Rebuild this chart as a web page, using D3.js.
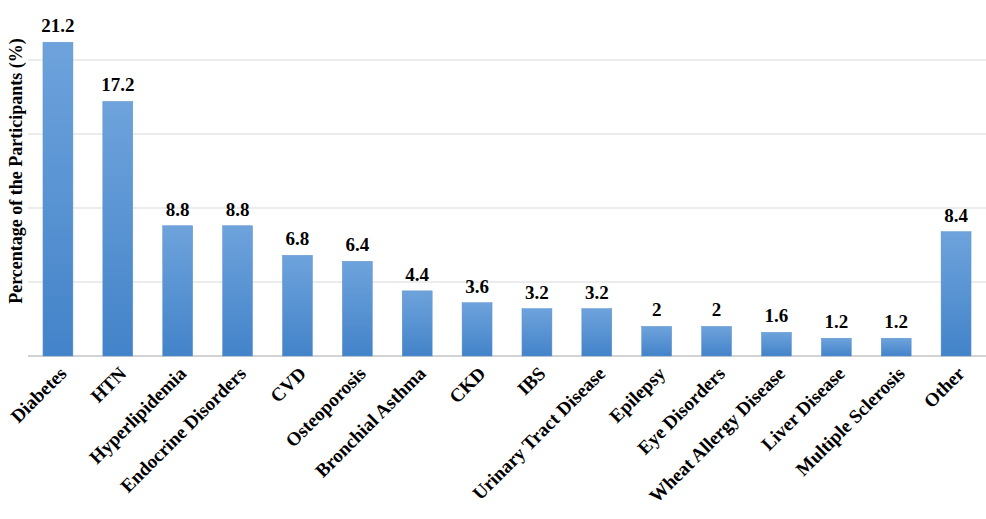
<!DOCTYPE html>
<html>
<head>
<meta charset="utf-8">
<script src="https://cdn.jsdelivr.net/npm/d3@7"></script>
<style>
  body { margin: 0; background: #fff; }
  text { font-family: "Liberation Serif", "Times New Roman", serif; font-weight: bold; fill: #000; }
</style>
</head>
<body>
<div id="chart"></div>
<script>
// data
var categories = ["Diabetes", "HTN", "Hyperlipidemia", "Endocrine Disorders", "CVD",
  "Osteoporosis", "Bronchial Asthma", "CKD", "IBS", "Urinary Tract Disease",
  "Epilepsy", "Eye Disorders", "Wheat Allergy Disease", "Liver Disease",
  "Multiple Sclerosis", "Other"];
var percents = [21.2, 17.2, 8.8, 8.8, 6.8, 6.4, 4.4, 3.6, 3.2, 3.2, 2, 2, 1.6, 1.2, 1.2, 8.4];
var gridTicks = [0, 5, 10, 15, 20];

var svgWidth = 986;
var svgHeight = 519;

var margin = { top: 60, right: 0, bottom: 163, left: 28 };
var chartWidth = svgWidth - margin.left - margin.right;
var chartHeight = svgHeight - margin.top - margin.bottom;

var svg = d3.select("#chart")
  .append("svg")
  .attr("width", svgWidth)
  .attr("height", svgHeight);

// bar gradient, lighter on top
var defs = svg.append("defs");
var grad = defs.append("linearGradient")
  .attr("id", "barGrad")
  .attr("x1", 0).attr("y1", 0).attr("x2", 0).attr("y2", 1);
grad.append("stop").attr("offset", "0%").attr("stop-color", "#6ea3dc");
grad.append("stop").attr("offset", "100%").attr("stop-color", "#4383c9");

var chartGroup = svg.append("g")
  .attr("transform", `translate(${margin.left}, ${margin.top})`);

var xScale = d3.scaleBand()
  .domain(categories)
  .range([0, chartWidth])
  .paddingInner(0.5)
  .paddingOuter(0.25);

var yScale = d3.scaleLinear()
  .domain([0, 20])
  .range([chartHeight, 0]);

// gridlines
chartGroup.append("g")
  .selectAll("line")
  .data(gridTicks)
  .enter()
  .append("line")
  .attr("x1", 0)
  .attr("x2", chartWidth)
  .attr("y1", d => yScale(d))
  .attr("y2", d => yScale(d))
  .style("stroke", d => d === 0 ? "#c4c4c4" : "#d9d9d9")
  .style("stroke-width", d => d === 0 ? 1.5 : 1);

// bars
chartGroup.append("g")
  .selectAll("rect")
  .data(percents)
  .enter()
  .append("rect")
  .attr("x", (d, i) => xScale(categories[i]))
  .attr("y", d => yScale(d))
  .attr("width", xScale.bandwidth())
  .attr("height", d => chartHeight - yScale(d))
  .style("fill", "url(#barGrad)")
  .style("stroke", "#5b8fcc")
  .style("stroke-width", 0.5);

// value labels
chartGroup.append("g")
  .selectAll("text")
  .data(percents)
  .enter()
  .append("text")
  .attr("x", (d, i) => xScale(categories[i]) + xScale.bandwidth() / 2)
  .attr("y", d => yScale(d) - 10)
  .attr("text-anchor", "middle")
  .style("font-size", "19px")
  .text(d => d);

// category labels, rotated
chartGroup.append("g")
  .selectAll("text")
  .data(categories)
  .enter()
  .append("text")
  .attr("transform", d => {
    var cx = xScale(d) + xScale.bandwidth() / 2 + 5;
    return `translate(${cx}, ${chartHeight + 14}) rotate(-45)`;
  })
  .attr("text-anchor", "end")
  .attr("dy", "0.35em")
  .style("font-size", "19px")
  .text(d => d);

// y axis title
svg.append("text")
  .attr("transform", `translate(22, 171) rotate(-90)`)
  .attr("text-anchor", "middle")
  .style("font-size", "18px")
  .text("Percentage of the Participants (%)");
</script>
</body>
</html>
